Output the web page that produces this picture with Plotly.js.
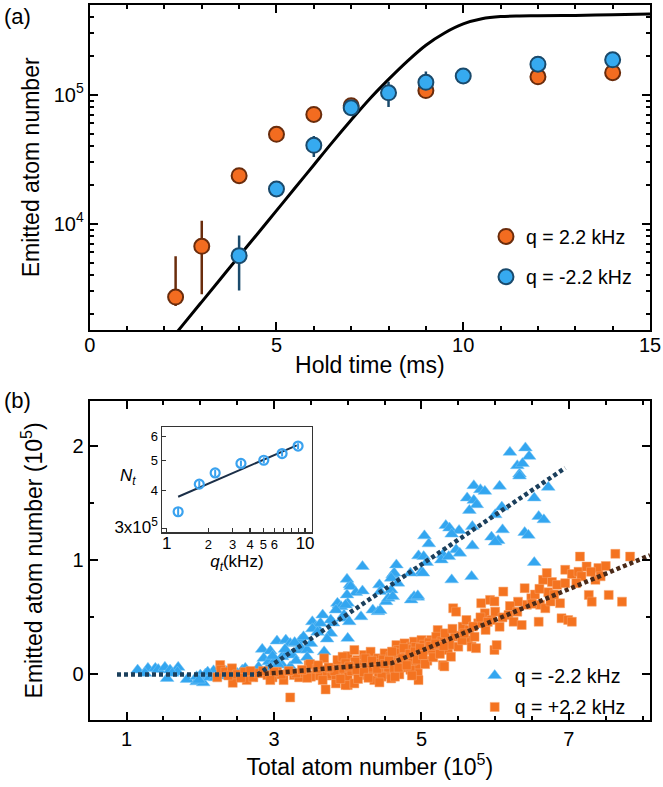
<!DOCTYPE html>
<html>
<head>
<meta charset="utf-8">
<script src="https://cdn.plot.ly/plotly-3.0.1.min.js"></script>
<style>html,body{margin:0;padding:0;background:#fff;}#chart{width:663px;height:787px;}</style>
</head>
<body>
<div id="chart"></div>
<script>
// ---------- Panel (a): emitted atom number vs hold time ----------
const holdTimeFit = [2.0, 2.5, 3, 3.5, 4, 4.5, 5, 5.5, 6, 6.5, 7, 7.5, 8, 8.5, 9, 9.5, 10, 10.5, 11, 11.5, 12, 13, 14, 15];
const emittedFit = [1100, 1650, 2480, 3730, 5610, 8410, 12650, 19000, 28600, 43000, 63800, 93300, 131800, 182000, 242700, 302000, 354800, 389000, 404600, 409300, 410500, 413000, 418000, 424000];

const holdPos = [2.3, 3, 4, 5, 6, 7, 9, 12, 14];
const emittedPos = [2700, 6680, 23600, 49400, 70500, 82200, 108000, 138000, 148500];
const errPosPlus = [2900, 3870, 3300, 4000, 3000, 3000, 8000, 5000, 8000];
const errPosMinus = [400, 3840, 3300, 5000, 3000, 3000, 12000, 5000, 12000];

const holdNeg = [4, 5, 6, 7, 8, 9, 10, 12, 14];
const emittedNeg = [5660, 18600, 40600, 79400, 103600, 125000, 140000, 173000, 187000];
const errNegPlus = [2460, 1500, 7300, 4000, 23000, 27000, 5000, 6000, 6000];
const errNegMinus = [2620, 1500, 7600, 4000, 23000, 10000, 5000, 6000, 6000];

// ---------- Panel (b): emitted vs total atom number (units of 1e5) ----------
const totalNeg = [
 1.15,1.29,1.39,1.43,1.52,1.55,1.59,1.70,1.69,1.82,1.95,2.04,2.00,2.07,2.13,2.18,2.25,2.32,2.41,2.50,2.57,2.61,2.66,2.75,2.79,1.95,2.55,2.62,1.98,2.10,2.28,2.45,2.20,2.36,1.25,1.62,
 2.84,2.95,3.04,3.16,3.22,2.86,2.93,3.02,3.11,3.18,3.25,3.32,3.36,3.11,3.22,3.36,3.45,3.50,3.52,3.57,3.63,3.66,3.68,3.77,3.88,3.93,4.00,4.00,3.52,3.59,2.90,3.00,3.05,3.30,3.40,3.45,2.98,3.15,3.28,3.72,3.80,
 5.29,5.00,4.61,4.03,4.59,4.52,4.55,4.86,4.95,3.86,3.91,3.97,3.84,4.34,4.41,4.44,4.18,3.95,4.02,3.77,
 6.20,6.41,6.46,6.30,6.37,6.33,6.33,5.71,5.80,5.86,6.06,6.72,5.62,5.71,5.75,5.65,6.09,6.53,6.00,6.59,6.66,5.33,5.38,5.51,5.69,5.41,6.10,6.40,6.45,5.04,5.10,5.95,6.04,6.00,5.69,5.47,5.52,4.96,5.03,5.07,5.27,5.37,5.02,6.53,4.20,4.66,4.63,4.59,4.68,4.85,5.41,5.68,3.99,4.04,4.11,4.20,3.99,4.43,4.44,4.61,4.90,4.95
];
const emittedNegB = [
 0.038,0.053,0.053,0.044,0.062,-0.035,0.038,0.062,0.020,-0.044,-0.065,-0.074,-0.006,0.003,-0.026,0.032,-0.015,0.003,0.020,0.009,0.038,0.053,0.014,0.009,0.064,-0.020,-0.010,-0.005,-0.050,0.020,0.010,-0.010,-0.030,0.025,0.010,0.010,
 0.220,0.205,0.293,0.301,0.272,0.141,0.111,0.126,0.155,0.185,0.170,0.214,0.301,0.082,0.067,0.240,0.214,0.272,0.462,0.418,0.448,0.521,0.199,0.360,0.609,0.492,0.624,0.316,0.400,0.370,0.040,0.050,0.090,0.120,0.330,0.150,0.160,0.220,0.280,0.310,0.450,
 1.048,0.900,0.873,0.785,0.741,0.638,0.668,0.653,0.677,0.624,0.594,0.609,0.565,0.565,0.550,0.560,0.506,0.521,0.462,0.477,
 1.947,1.986,1.912,1.830,1.848,1.757,1.740,1.655,1.620,1.605,1.650,1.640,1.547,1.526,1.488,1.438,1.467,1.547,1.400,1.385,1.356,1.306,1.283,1.262,1.297,1.230,1.268,1.244,1.220,1.215,1.145,1.204,1.174,1.160,1.127,1.092,1.063,1.040,1.033,0.981,1.004,1.033,0.888,0.981,0.946,0.960,0.888,0.844,0.800,0.888,0.829,0.858,0.835,0.770,0.717,0.732,0.697,0.785,0.726,0.682,0.682,0.690
];

const totalPos = [
 2.27,2.28,2.34,2.43,2.44,2.23,2.63,2.72,2.79,2.91,2.98,3.04,3.13,3.22,3.27,3.34,3.41,3.47,3.49,3.54,3.63,3.68,3.70,3.77,3.84,3.89,3.95,4.00,4.00,3.30,3.50,3.62,3.72,3.78,2.50,2.60,2.85,3.10,3.20,3.58,
 3.79,3.84,3.86,3.93,3.97,4.00,3.97,4.09,4.09,4.13,4.20,4.22,4.25,4.27,4.31,4.34,4.36,4.41,4.45,4.50,4.52,4.59,4.61,4.66,4.68,4.70,4.72,4.77,4.79,4.81,4.86,4.90,4.93,4.95,4.96,4.97,5.00,5.06,5.13,5.18,5.22,5.24,5.29,5.34,5.36,5.40,5.43,5.45,5.47,5.50,5.52,5.56,5.61,5.63,5.65,5.68,5.72,5.74,5.77,5.81,5.86,5.87,5.93,5.95,5.99,5.99,6.02,6.06,6.11,6.18,6.25,6.31,6.36,6.40,6.43,6.49,6.54,6.59,6.61,6.65,6.68,6.70,6.72,6.75,6.77,6.84,6.88,6.90,6.95,6.99,7.04,7.04,7.13,7.15,7.17,7.24,7.27,7.31,7.36,7.40,7.43,7.54,7.63,7.72,7.83,5.31,
 4.05,4.15,4.18,4.30,4.38,4.42,4.48,4.55,4.58,4.63,4.65,4.75,4.78,4.83,4.88,4.92,4.99,5.03,5.08,5.10,5.15,5.20,5.27,5.32,5.38,5.42,5.55,5.58,5.70,5.80,5.90,6.00,6.10,6.20,6.30,6.50,6.60,6.80,6.95,7.10,7.30,7.50,3.90,4.10,4.24,4.46,4.70,4.85,
 3.82,3.90,4.02,4.12,4.14,4.22,4.28,4.33,4.40,4.43,4.50,4.56,4.60,4.64,4.69,4.74,4.76,4.80,4.84,4.87,4.91,4.94,4.98,5.02,5.05,5.12,5.16,5.19,5.25,5.30,3.60,3.66,3.74,3.45,3.38,3.00,2.95,2.68,2.55,2.38
];
const emittedPosB = [
 0.082,0.040,0.023,0.053,-0.074,-0.026,-0.050,-0.026,0.010,-0.006,-0.026,0.023,-0.050,-0.202,-0.006,-0.026,0.014,0.082,0.090,-0.006,0.038,0.141,-0.132,0.023,-0.079,0.080,0.020,-0.094,0.160,0.010,-0.020,-0.010,-0.010,0.000,0.000,0.020,0.030,0.000,0.030,0.050,
 0.053,-0.006,0.126,0.155,0.097,-0.020,-0.094,0.214,-0.079,0.126,0.067,0.170,-0.006,0.110,0.199,0.038,-0.050,0.141,0.070,0.185,0.000,-0.035,0.126,0.257,0.214,0.170,0.110,0.272,0.200,0.141,0.243,0.287,0.067,0.009,-0.050,0.180,0.301,0.214,0.301,0.185,0.389,0.240,0.082,0.301,0.214,0.155,0.580,0.330,0.550,0.243,0.340,0.418,0.477,0.301,0.390,0.243,0.330,0.230,0.448,0.624,0.536,0.390,0.653,0.477,0.640,0.214,0.257,0.418,0.726,0.521,0.462,0.638,0.433,0.756,0.610,0.668,0.700,0.462,0.610,0.829,0.580,0.888,0.720,0.640,0.810,0.785,0.624,0.492,0.917,0.477,0.462,0.880,0.900,1.033,0.860,0.946,0.697,0.638,0.829,0.932,0.860,0.697,1.057,0.638,1.033,0.070,
 0.030,0.000,0.090,0.060,0.100,0.020,0.130,0.060,0.160,0.050,0.190,0.060,0.150,0.220,0.120,0.240,0.150,0.260,0.120,0.280,0.220,0.330,0.290,0.360,0.260,0.400,0.300,0.360,0.420,0.500,0.460,0.550,0.500,0.600,0.550,0.620,0.750,0.700,0.800,0.800,0.900,0.950,0.050,0.110,0.140,-0.020,0.000,0.040,
 0.030,-0.040,0.070,0.040,-0.040,0.020,-0.030,0.120,0.050,-0.070,0.090,0.120,0.200,-0.020,0.060,0.140,0.230,0.080,0.180,-0.010,0.200,0.130,0.230,0.170,0.090,0.250,0.150,0.270,0.180,0.250,0.080,-0.050,0.060,-0.030,0.040,0.020,-0.050,0.030,-0.030,-0.010
];

// piecewise fits
const fitNegX = [0.87, 2.78, 6.95];
const fitNegY = [0, 0, 1.81];
const fitPosX = [2.78, 4.6, 8.1];
const fitPosY = [0, 0.1, 1.045];

// ---------- Inset: N_t vs q_t ----------
const qt = [1.21, 1.72, 2.24, 3.44, 5.03, 6.82, 8.9];
const Nt = [3.40e5, 4.19e5, 4.56e5, 4.90e5, 5.02e5, 5.28e5, 5.59e5];
const NtErr = [1.0e4, 1.0e4, 1.1e4, 1.1e4, 1.2e4, 1.2e4, 1.2e4];
const qtFit = [1.21, 8.7];
const NtFit = [3.81e5, 5.62e5];

// tick labels
const aYTickVals = [1e4, 1e5];
const aYTickText = ['10<sup>4</sup>', '10<sup>5</sup>'];
const aYMinor = [2e3,3e3,4e3,5e3,6e3,7e3,8e3,9e3,2e4,3e4,4e4,5e4,6e4,7e4,8e4,9e4,2e5,3e5,4e5];
const insetXVals = [1,2,3,4,5,6,10];
const insetXText = ['<span style="font-size:17px">1</span>','2','3','4','5','6','<span style="font-size:17px">10</span>'];
const insetXMinor = [7, 8, 9];
const insetYVals = [3e5, 4e5, 5e5, 6e5];
const insetYText = ['<span style="font-size:17px">3x10<sup>5</sup></span>', '4', '5', '6'];

const ORANGE = '#f36c20', ORANGE_EDGE = '#6a2c0c';
const BLUE = '#36aaf0', BLUE_EDGE = '#1a4a6c';

const traces = [
  {x: holdTimeFit, y: emittedFit, xaxis: 'x', yaxis: 'y', mode: 'lines', line: {color: '#000', width: 3, shape: 'spline', smoothing: 1}, showlegend: false, hoverinfo: 'skip'},
  {x: holdPos, y: emittedPos, xaxis: 'x', yaxis: 'y', mode: 'markers', name: 'q = 2.2 kHz', legend: 'legend', legendgroup: 'a1',
   marker: {size: 15, color: ORANGE, line: {color: ORANGE_EDGE, width: 2}},
   error_y: {type: 'data', symmetric: false, array: errPosPlus, arrayminus: errPosMinus, color: ORANGE_EDGE, thickness: 2.5, width: 0}},
  {x: holdNeg, y: emittedNeg, xaxis: 'x', yaxis: 'y', mode: 'markers', name: 'q = -2.2 kHz', legend: 'legend', legendgroup: 'a2',
   marker: {size: 15, color: BLUE, line: {color: BLUE_EDGE, width: 2}},
   error_y: {type: 'data', symmetric: false, array: errNegPlus, arrayminus: errNegMinus, color: BLUE_EDGE, thickness: 2.5, width: 0}},

  {x: totalNeg, y: emittedNegB, xaxis: 'x2', yaxis: 'y2', mode: 'markers', name: 'q = -2.2 kHz', legend: 'legend2', legendgroup: 'b1',
   marker: {symbol: 'triangle-up', size: 12, color: '#33a6f0', line: {color: '#7cc6f5', width: 0.5}}},
  {x: totalPos, y: emittedPosB, xaxis: 'x2', yaxis: 'y2', mode: 'markers', name: 'q = +2.2 kHz', legend: 'legend2', legendgroup: 'b2',
   marker: {symbol: 'square', size: 9, color: '#f47320', line: {color: '#f7a36a', width: 0.5}}},
  {x: fitNegX, y: fitNegY, xaxis: 'x2', yaxis: 'y2', mode: 'lines', line: {color: '#1b3f5c', width: 4.5, dash: '4px,3px'}, showlegend: false, hoverinfo: 'skip'},
  {x: fitPosX, y: fitPosY, xaxis: 'x2', yaxis: 'y2', mode: 'lines', line: {color: '#4a2a18', width: 4.5, dash: '4px,3px'}, showlegend: false, hoverinfo: 'skip'},

  {x: qtFit, y: NtFit, xaxis: 'x3', yaxis: 'y3', mode: 'lines', line: {color: '#1b2f48', width: 2}, showlegend: false, hoverinfo: 'skip'},
  {x: qt, y: Nt, xaxis: 'x3', yaxis: 'y3', mode: 'markers', showlegend: false,
   marker: {symbol: 'circle-open', size: 9, color: '#3aa2ef', line: {width: 2.2}},
   error_y: {type: 'data', array: NtErr, color: '#3aa2ef', thickness: 2, width: 0}}
];

const FONT = 'Liberation Sans, Arial, Helvetica, sans-serif';
const frame = {showline: true, linewidth: 2, linecolor: '#000', mirror: 'ticks', ticks: 'inside', ticklen: 8, tickwidth: 2, tickcolor: '#000', showgrid: false, zeroline: false, automargin: false};

const layout = {
  width: 663, height: 787,
  margin: {l: 0, r: 0, t: 0, b: 0},
  paper_bgcolor: '#fff', plot_bgcolor: 'rgba(0,0,0,0)',
  font: {family: FONT, color: '#000', size: 20},
  showlegend: true,
  xaxis: Object.assign({}, frame, {domain: [0.1353, 0.9804], anchor: 'y', range: [0, 15], tickmode: 'array', tickvals: [0, 5, 10, 15],
    minor: {dtick: 1, ticks: 'inside', ticklen: 4, tickwidth: 2, tickcolor: '#000'}, ticklabelstandoff: -4,
    tickfont: {size: 20}, title: {text: 'Hold time (ms)', font: {size: 23}, standoff: 2}}),
  yaxis: Object.assign({}, frame, {domain: [0.5807, 0.9940], anchor: 'x', type: 'log', range: [Math.log10(1500), Math.log10(5e5)],
    tickmode: 'array', tickvals: aYTickVals, ticktext: aYTickText,
    minor: {tickmode: 'array', tickvals: aYMinor, ticks: 'inside', ticklen: 4, tickwidth: 2, tickcolor: '#000'},
    tickfont: {size: 20}, title: {text: 'Emitted atom number', font: {size: 23}, standoff: 8}}),
  xaxis2: Object.assign({}, frame, {domain: [0.1353, 0.9804], anchor: 'y2', range: [0.5, 8.1], tickmode: 'array', tickvals: [1, 3, 5, 7],
    minor: {dtick: 0.5, tick0: 0, ticks: 'inside', ticklen: 4, tickwidth: 2, tickcolor: '#000'},
    tickfont: {size: 20}, title: {text: 'Total atom number (10<sup>5</sup>)', font: {size: 23}, standoff: 6}}),
  yaxis2: Object.assign({}, frame, {domain: [0.0851, 0.4909], anchor: 'x2', range: [-0.4, 2.4], tickmode: 'array', tickvals: [0, 1, 2],
    minor: {dtick: 0.5, tick0: 0, ticks: 'inside', ticklen: 4, tickwidth: 2, tickcolor: '#000'}, automargin: true,
    tickfont: {size: 20}, title: {text: 'Emitted atom number (10<sup>5</sup>)', font: {size: 23}, standoff: 24}}),
  xaxis3: {domain: [0.2439, 0.4706], anchor: 'y3', type: 'log', range: [-0.036, 1.05], showline: true, linewidth: 1.2, linecolor: '#333', mirror: true,
    ticks: 'inside', ticklen: 4, tickwidth: 1.2, tickcolor: '#333', tickmode: 'array', tickvals: insetXVals, ticktext: insetXText,
    minor: {tickmode: 'array', tickvals: insetXMinor, ticks: 'inside', ticklen: 4, tickwidth: 1.2, tickcolor: '#333'},
    tickfont: {size: 13}, showgrid: false, zeroline: false, automargin: false,
    title: {text: '<i>q<sub>t</sub></i>(kHz)', font: {size: 17}, standoff: 2}},
  yaxis3: {domain: [0.3236, 0.4578], anchor: 'x3', type: 'log', range: [Math.log10(2.91e5), Math.log10(6.47e5)], showline: true, linewidth: 1.2, linecolor: '#333', mirror: true,
    ticks: 'inside', ticklen: 4, tickwidth: 1.2, tickcolor: '#333', tickmode: 'array', tickvals: insetYVals, ticktext: insetYText,
    tickfont: {size: 13}, showgrid: false, zeroline: false, automargin: false},
  legend: {x: 0.733, y: 0.724, xanchor: 'left', yanchor: 'top', bgcolor: 'rgba(0,0,0,0)', font: {size: 19.5}, traceorder: 'grouped', tracegroupgap: 12, itemclick: false},
  legend2: {x: 0.716, y: 0.166, xanchor: 'left', yanchor: 'top', bgcolor: 'rgba(0,0,0,0)', font: {size: 19.5}, traceorder: 'grouped', tracegroupgap: 3, itemclick: false},
  annotations: [
    {text: '(a)', xref: 'paper', yref: 'paper', x: 0.003, y: 1 - 17/787, xanchor: 'left', yanchor: 'middle', showarrow: false, font: {size: 22}},
    {text: '(b)', xref: 'paper', yref: 'paper', x: 0.003, y: 1 - 400/787, xanchor: 'left', yanchor: 'middle', showarrow: false, font: {size: 22}},
    {text: '<i>N<sub>t</sub></i>', xref: 'paper', yref: 'paper', x: 128/663, y: 1 - 477/787, xanchor: 'center', yanchor: 'middle', showarrow: false, font: {size: 17}}
  ]
};

Plotly.newPlot('chart', traces, layout, {staticPlot: true, displayModeBar: false});
</script>
</body>
</html>
